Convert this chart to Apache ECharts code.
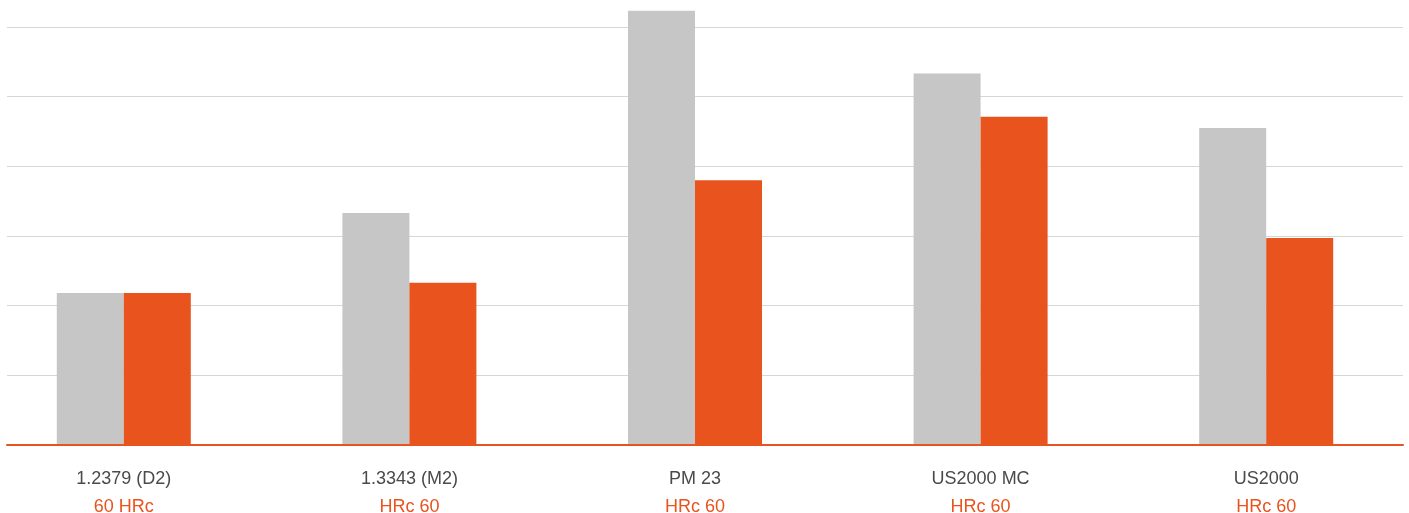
<!DOCTYPE html>
<html>
<head>
<meta charset="utf-8">
<script src="https://cdn.jsdelivr.net/npm/echarts@6/dist/echarts.min.js"></script>
<style>
html,body{margin:0;padding:0;background:#fff;}
#chart{width:1409px;height:513px;}
</style>
</head>
<body>
<div id="chart"></div>
<script>
const categories = ['1.2379 (D2)', '1.3343 (M2)', 'PM 23', 'US2000 MC', 'US2000'];
const hardness = ['60 HRc', 'HRc 60', 'HRc 60', 'HRc 60', 'HRc 60'];
const greyValues = [2.18, 3.33, 6.23, 5.33, 4.55];
const orangeValues = [2.18, 2.33, 3.80, 4.71, 2.97];

const GREY = '#c6c6c6';
const ORANGE = '#e8531e';
const GRID_LINE = '#d6d6d6';

const chart = echarts.init(document.getElementById('chart'), null, {renderer: 'canvas'});
chart.setOption({
  animation: false,
  backgroundColor: '#ffffff',
  grid: [
    {left: 7, right: 6, top: 27, bottom: 68, outerBoundsMode: 'none'},
    {left: -19, right: 0, top: -1, bottom: 68, outerBoundsMode: 'none'}
  ],
  xAxis: [
    {
      type: 'category', gridIndex: 0, data: categories, z: 10,
      axisLine: {show: true, lineStyle: {color: ORANGE, width: 2}},
      axisTick: {show: false}, axisLabel: {show: false}
    },
    {
      type: 'category', gridIndex: 1, data: categories,
      axisLine: {show: false}, axisTick: {show: false},
      axisLabel: {
        margin: 20,
        interval: 0,
        formatter: function (v, i) { return '{a|' + v + '}\n{b|' + hardness[i] + '}'; },
        rich: {
          a: {fontFamily: 'Liberation Sans', fontSize: 18, color: '#4a4a4a', lineHeight: 28},
          b: {fontFamily: 'Liberation Sans', fontSize: 18, color: ORANGE, lineHeight: 28}
        }
      }
    }
  ],
  yAxis: [
    {
      type: 'value', gridIndex: 0, min: 0, max: 6, interval: 1,
      axisLine: {show: false}, axisTick: {show: false}, axisLabel: {show: false},
      splitLine: {show: true, showMinLine: false, lineStyle: {color: GRID_LINE, width: 1}}
    },
    {
      type: 'value', gridIndex: 1, min: 0, max: 6.4, interval: 0.8,
      axisLine: {show: false}, axisTick: {show: false}, axisLabel: {show: false},
      splitLine: {show: false}
    }
  ],
  series: [
    {
      type: 'bar', xAxisIndex: 1, yAxisIndex: 1, data: greyValues,
      barWidth: 67, barGap: '0%',
      itemStyle: {color: GREY}
    },
    {
      type: 'bar', xAxisIndex: 1, yAxisIndex: 1, data: orangeValues,
      barWidth: 67, barGap: '0%',
      itemStyle: {color: ORANGE}
    }
  ]
});
</script>
</body>
</html>
